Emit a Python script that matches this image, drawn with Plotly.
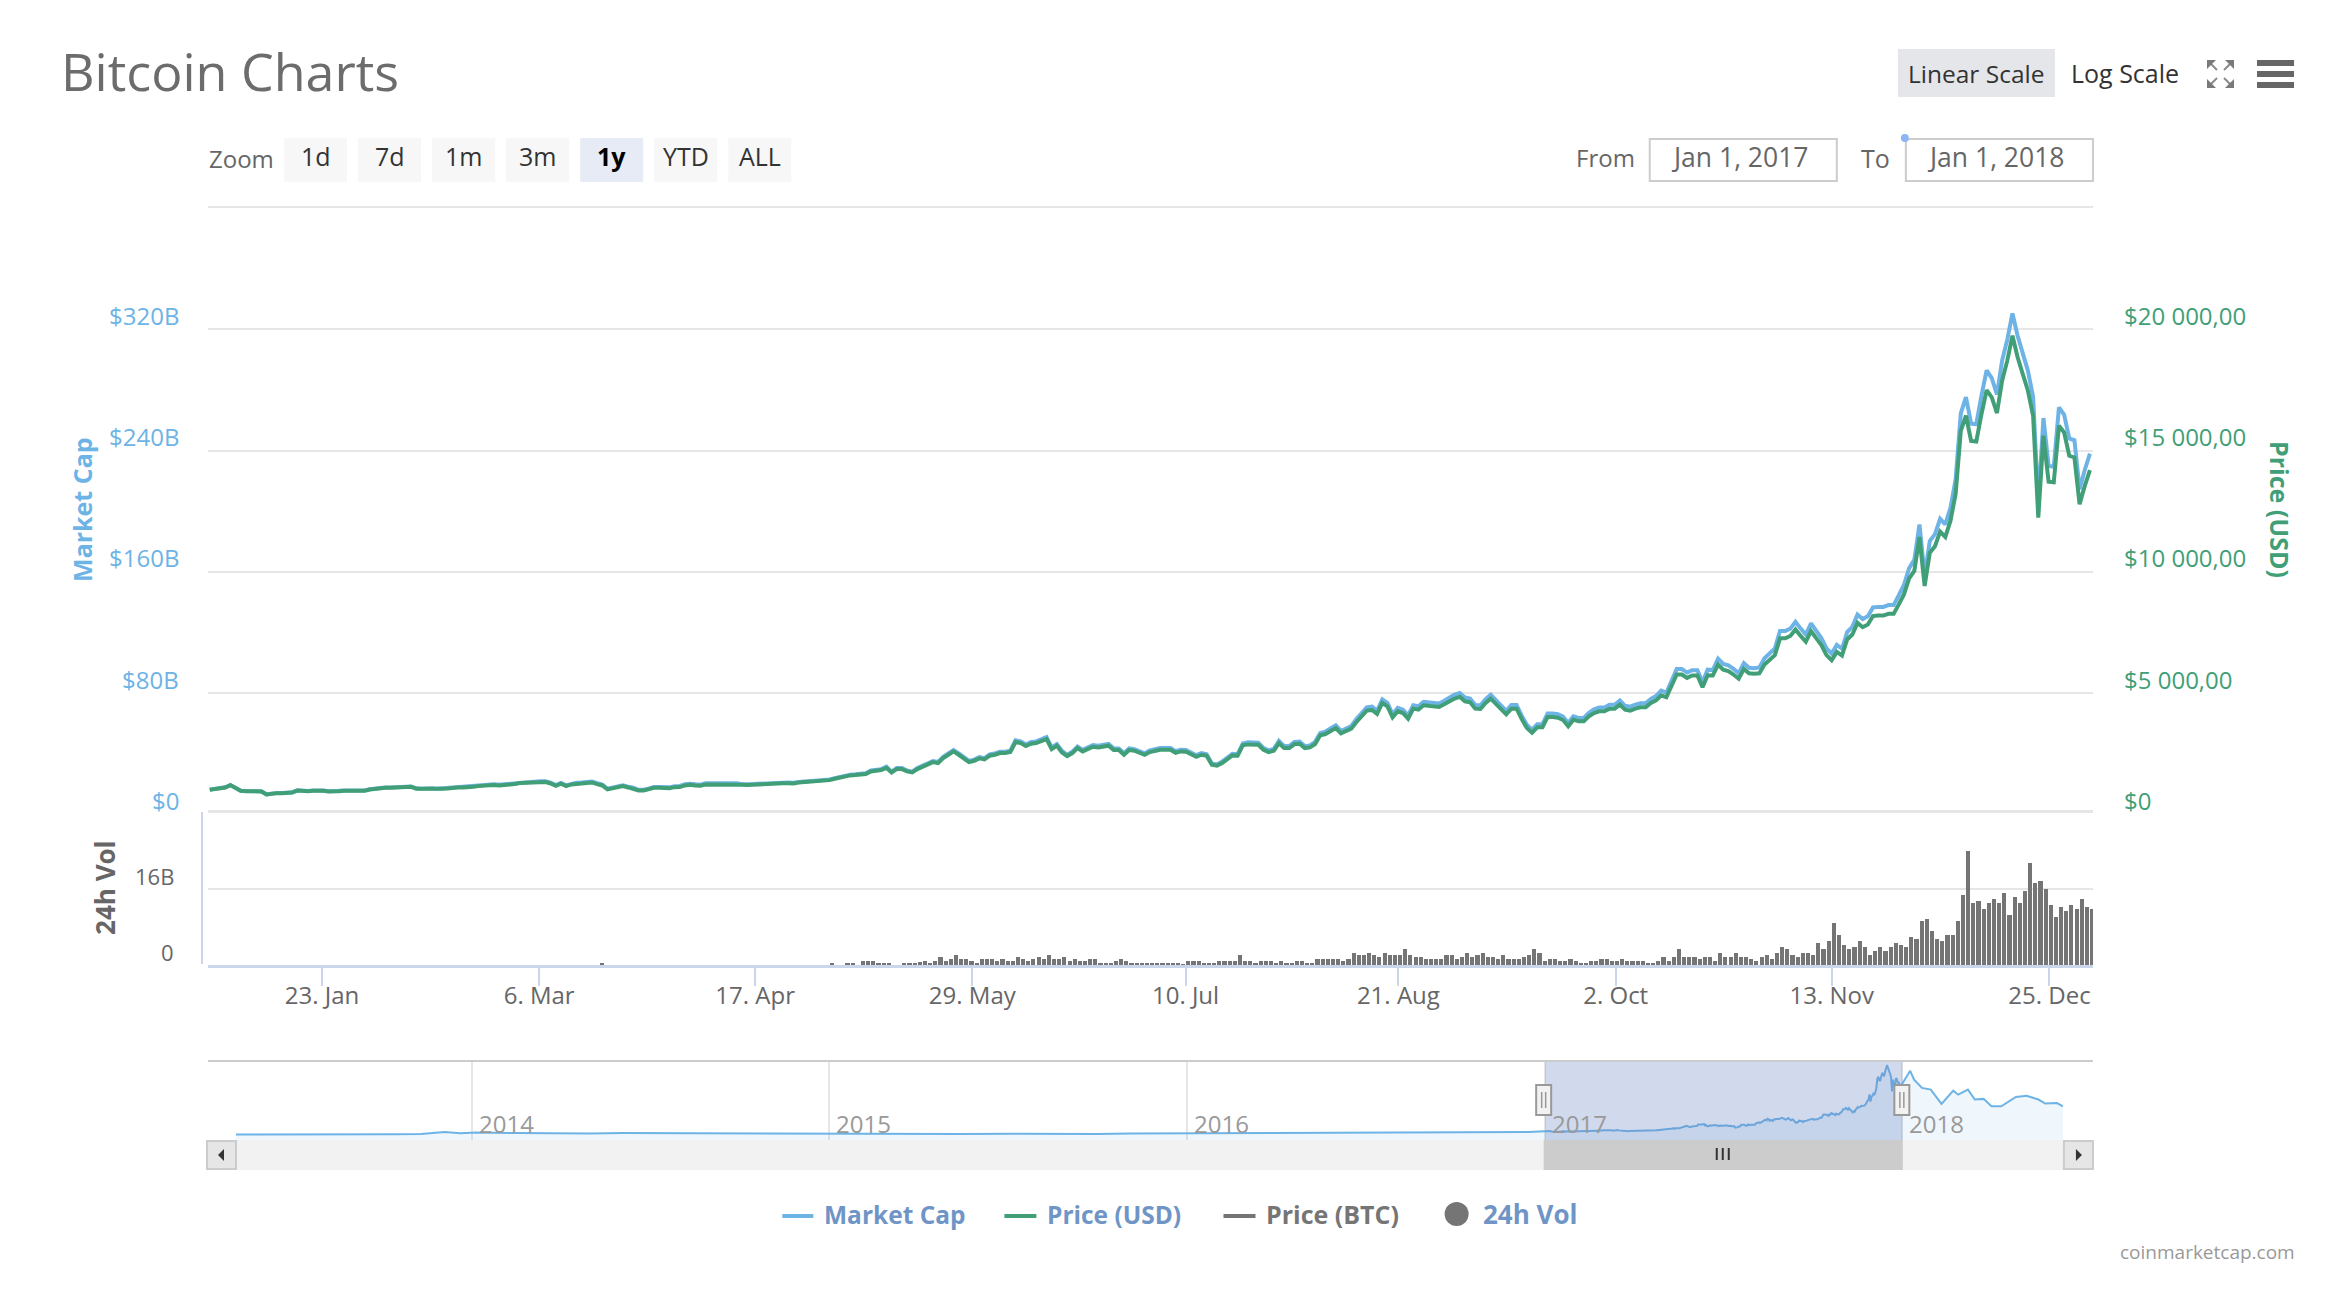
import pandas as pd
import plotly.graph_objects as go

W, H = 2334, 1314
FONT = "Open Sans"
BLUE, GREEN, GREY = "#6db3e6", "#419f77", "#757575"

price_usd = [
    1018,1046,1072,1115,1211,1087,977,963,963,963,
    950,826,868,881,881,881,908,990,963,963,
    977,990,977,950,936,963,977,977,977,977,
    977,1032,1060,1072,1101,1101,1101,1115,1128,1142,
    1060,1046,1060,1060,1046,1060,1072,1101,1115,1115,
    1115,1142,1170,1184,1225,1211,1198,1211,1225,1253,
    1294,1308,1321,1321,1335,1335,1280,1184,1267,1170,
    1239,1267,1280,1294,1321,1253,1198,1032,1087,1128,
    1170,1115,1072,990,990,1032,1101,1101,1087,1087,
    1128,1130,1198,1225,1198,1184,1239,1239,1252,1266,
    1266,1266,1266,1225,1211,1225,1239,1252,1266,1280,
    1307,1293,1293,1280,1321,1335,1349,1362,1376,1390,
    1417,1472,1528,1556,1611,1625,1638,1666,1776,1817,
    1831,1927,1735,1872,1872,1776,1735,1872,1982,2065,
    2160,2119,2326,2463,2600,2463,2298,2160,2215,2312,
    2270,2422,2463,2532,2532,2573,2987,2945,2820,2917,
    2945,3014,3111,2697,2835,2559,2408,2532,2738,2600,
    2711,2793,2766,2793,2835,2656,2656,2463,2656,2628,
    2532,2463,2573,2628,2670,2670,2670,2545,2600,2587,
    2463,2380,2463,2422,2050,2010,2120,2298,2436,2422,
    2849,2890,2876,2876,2670,2573,2628,2945,2738,2738,
    2904,2917,2738,2766,2904,3263,3318,3428,3566,3345,
    3428,3538,3813,4047,4281,4308,4143,4597,4460,4005,
    4253,4184,3950,4363,4322,4500,4473,4473,4432,4542,
    4680,4780,4850,4666,4625,4363,4349,4597,4776,4555,
    4308,4129,4363,4363,3936,3566,3373,3593,3593,4019,
    4019,3991,3895,3634,3909,3840,3840,4047,4184,4253,
    4253,4363,4363,4528,4322,4281,4363,4418,4418,4597,
    4707,4914,4832,5287,5770,5770,5630,5730,5730,5250,
    5740,5730,6180,5970,5910,5770,5600,6000,5820,5800,
    5820,6180,6390,6570,7260,7260,7360,7630,7360,7120,
    7560,7280,6980,6570,6360,6700,6550,7215,7420,7900,
    7720,7830,8180,8200,8200,8270,8270,8660,9070,9730,
    10040,11440,9417,10790,11060,11660,11440,12100,13216,15818,
    16437,15400,15376,16500,17496,17195,16548,17883,18708,19740,
    18845,18155,17468,16437,12240,15613,13717,13690,16024,15750,
    14786,14717,12790,13547,14194,
]
market_cap_b = [
    16.4,16.8,17.3,18.0,19.5,17.5,15.7,15.5,15.5,15.5,
    15.3,13.3,14.0,14.2,14.2,14.2,14.7,16.0,15.5,15.5,
    15.8,16.0,15.8,15.4,15.2,15.6,15.8,15.8,15.8,15.8,
    15.8,16.7,17.2,17.4,17.8,17.8,17.8,18.1,18.3,18.5,
    17.3,17.0,17.3,17.3,17.0,17.3,17.5,17.9,18.2,18.2,
    18.3,18.7,19.2,19.4,20.1,19.9,19.6,19.9,20.1,20.5,
    21.2,21.5,21.7,21.7,21.9,21.9,21.0,19.4,20.8,19.2,
    20.4,20.9,21.1,21.4,21.8,20.7,19.8,17.0,17.9,18.6,
    19.3,18.4,17.7,16.3,16.3,17.0,18.2,18.2,17.9,17.9,
    18.7,18.8,19.9,20.3,19.9,19.7,20.6,20.6,20.8,21.0,
    20.6,20.6,20.6,19.9,19.7,19.9,20.2,20.4,20.6,20.8,
    21.3,21.1,21.1,20.9,21.5,21.8,22.0,22.2,22.4,22.7,
    23.1,24.0,24.9,25.4,26.3,26.5,26.7,27.2,29.0,29.6,
    29.9,31.5,28.3,30.6,30.6,29.0,28.3,30.6,32.4,33.7,
    35.3,34.6,38.0,40.3,42.5,40.3,37.6,35.3,36.2,37.8,
    37.2,39.7,40.3,41.4,41.4,42.1,48.9,48.2,46.2,47.8,
    48.2,49.4,51.0,44.2,46.4,41.9,39.4,41.5,44.8,42.6,
    44.5,45.8,45.4,45.8,46.5,43.6,43.6,40.4,43.6,43.1,
    41.6,40.4,42.2,43.2,43.8,43.8,43.8,41.8,42.7,42.5,
    40.5,39.1,40.5,39.8,33.7,33.0,34.9,37.8,40.0,39.8,
    46.9,47.6,47.3,47.3,43.9,42.3,43.3,48.5,45.1,45.1,
    47.9,48.1,45.1,45.6,47.9,53.8,54.7,56.5,58.8,55.1,
    56.6,58.4,62.9,66.8,70.6,71.1,68.4,75.9,73.6,66.1,
    70.3,69.1,65.3,72.1,71.4,74.3,73.9,73.9,73.2,75.0,
    77.4,79.1,80.2,77.2,76.5,72.2,71.9,76.0,79.0,75.3,
    71.3,68.4,72.2,72.2,65.2,59.1,55.9,59.5,59.5,66.6,
    66.6,66.2,64.6,60.3,64.8,63.7,63.7,67.1,69.4,70.5,
    70.6,72.4,72.4,75.2,71.7,71.1,72.4,73.3,73.3,76.3,
    78.2,81.7,80.3,87.9,95.9,95.9,93.6,95.2,95.2,87.3,
    95.5,95.3,102.8,99.3,98.3,96.0,93.2,99.8,96.8,96.5,
    97.0,103.0,106.5,109.5,121.0,121.0,122.6,127.1,122.6,118.6,
    126.1,121.4,116.4,109.6,106.1,111.8,109.3,120.3,123.8,131.8,
    128.9,130.8,136.6,136.9,136.9,138.1,138.1,144.6,151.5,162.5,
    167.9,191.3,157.5,180.4,184.9,195.0,191.3,202.3,221.0,264.5,
    275.2,257.8,257.4,276.2,292.9,287.8,277.0,299.4,313.2,330.5,
    315.7,304.1,292.6,275.3,205.0,261.5,229.8,229.3,268.4,263.8,
    248.0,246.8,214.5,227.2,238.0,
]
volume_b = [
    0,.35,0,0,.42,.42,0,.84,.84,.84,.42,.42,.42,0,0,.42,.42,.42,.6,.84,
    .42,.84,1.68,.84,1.26,2.1,1.26,1.26,.84,.42,1.26,1.26,1.26,.84,1.26,.84,.84,1.68,1.26,.84,
    1.26,1.68,1.26,2.1,1.26,1.26,1.68,.84,1.26,.84,.84,1.26,1.26,.42,.42,.42,.84,1.26,.84,.42,
    .42,.42,.42,.42,.42,.42,.42,.42,.42,.14,.84,.84,.84,.42,.42,.42,.84,.84,.84,.84,
    2.1,.84,.84,.42,.84,.84,.84,.42,.84,.42,.42,.84,.84,.42,.42,1.26,1.26,1.26,1.26,1.26,
    .84,1.26,2.53,2.1,2.1,2.53,2.1,1.68,2.53,2.1,2.1,2.1,3.37,2.1,1.68,1.68,1.26,1.26,1.26,1.26,
    2.1,
    2.1,1.26,1.68,2.53,1.68,2.1,2.53,1.68,1.68,1.26,2.1,1.26,1.26,1.26,1.68,2.1,3.37,2.53,.84,1.26,
    1.26,.84,.84,1.26,.84,.42,.42,.84,.84,1.26,1.26,.84,.84,1.26,.84,.84,.84,.84,.42,.42,
    .84,1.68,.84,1.68,3.37,1.68,1.68,1.68,1.26,1.68,1.68,.84,2.53,1.68,1.68,2.53,1.68,1.68,1.26,.84,
    1.68,2.1,1.26,2.53,3.79,3.37,2.1,1.68,2.53,2.53,2.1,4.63,3.37,5.05,8.85,6.32,4.21,3.37,3.79,5.05,
    3.79,2.1,2.95,3.79,2.95,3.79,4.63,4.21,3.79,5.9,5.48,9.27,9.69,7.16,5.48,5.05,6.32,6.32,9.27,14.74,
    24.0,13.06,13.48,11.79,13.06,13.9,13.06,15.16,10.53,14.32,13.06,15.58,21.48,17.27,17.69,16.0,12.64,10.11,12.2,11.37,
    12.64,11.79,13.9,12.2,11.79,
]
early_volume_date = ["2017-03-18 07:00"]
early_volume_b = [0.3]

nav_dates_before = [
    "2013-05-05","2013-07-01","2013-09-01","2013-10-15","2013-11-10","2013-12-04","2013-12-20",
    "2014-01-05","2014-02-15","2014-03-20","2014-05-01","2014-06-05","2014-07-15","2014-09-01",
    "2014-10-05","2014-11-20","2015-01-01","2015-01-15","2015-03-10","2015-05-15","2015-07-10",
    "2015-08-25","2015-10-01","2015-11-05","2015-12-20","2016-01-15","2016-03-15","2016-06-20",
    "2016-08-05","2016-10-15","2016-12-15",
]
nav_caps_before = [
    1.5,1.0,1.5,2,4,12.7,7.5,10.5,8,7,5.5,8.3,7.8,6.5,4.5,5,4.3,2.8,4,3.3,4.3,3.3,3.5,5.5,6.5,6,6.3,
    10.5,9,10,12.5,
]
nav_dates_after = [
    "2018-01-09","2018-01-13","2018-01-21","2018-01-30","2018-02-10","2018-02-22","2018-02-27",
    "2018-03-09","2018-03-16","2018-03-25","2018-04-02","2018-04-12","2018-04-27","2018-05-08",
    "2018-05-20","2018-05-27","2018-06-08","2018-06-14",
]
nav_caps_after = [303,261,222,214,146,209,190,214,167,170,135,135,179,185,167,148,150,135]
nav_floor_dates = ["2013-05-05", "2018-06-14"]
nav_floor_values = [-25, -25]

# The source axis is ordinal, so its ticks sit slightly off the calendar position of their label.
x_tick_dates = ["2017-01-23 02:00","2017-03-06 03:00","2017-04-16 23:00","2017-05-29 00:00","2017-07-09 07:00",
                "2017-08-19 12:00","2017-09-30 14:00","2017-11-11 10:00","2017-12-23 14:00"]
x_tick_labels = ["23. Jan","6. Mar","17. Apr","29. May","10. Jul","21. Aug","2. Oct","13. Nov","25. Dec"]
cap_ticks = [0, 80, 160, 240, 320]
cap_labels = ["$0", "$80B", "$160B", "$240B", "$320B"]
price_ticks = [0, 5000, 10000, 15000, 20000]
price_labels = ["$0", "$5 000,00", "$10 000,00", "$15 000,00", "$20 000,00"]
vol_ticks = [0, 16]
vol_labels = ["0", "16B"]
nav_years = ["2014-01-01","2015-01-01","2016-01-01","2017-01-01","2018-01-01"]
nav_year_labels = ["2014","2015","2016","2017","2018"]
zoom_buttons = ["1d","7d","1m","3m","1y","YTD","ALL"]

assert len(price_usd) == len(market_cap_b) == 365, (len(price_usd), len(market_cap_b))

main_dates = pd.date_range("2017-01-01 08:00", "2017-12-31 10:00", periods=len(price_usd))
vol_dates = pd.date_range("2017-04-30 20:00", periods=len(volume_b), freq="D")
nav_x = nav_dates_before + [str(d) for d in main_dates] + nav_dates_after
nav_y = nav_caps_before + market_cap_b + nav_caps_after


def px(x): return (208 + (x - 208) * 1.0005) / W
def py(y): return 1 - y / H


shapes, notes = [], []


def rect(x0, y0, x1, y1, fill, line=None, lw=0, layer="above"):
    shapes.append(dict(type="rect", xref="paper", yref="paper", x0=px(x0), x1=px(x1), y0=py(y0), y1=py(y1),
                       fillcolor=fill, line=dict(color=line or fill, width=lw), layer=layer))


def seg(x0, y0, x1, y1, color, lw=2, layer="above"):
    shapes.append(dict(type="line", xref="paper", yref="paper", x0=px(x0), x1=px(x1), y0=py(y0), y1=py(y1),
                       line=dict(color=color, width=lw), layer=layer))


def poly(points, color):
    path = "M " + " L ".join(f"{px(a):.5f},{py(b):.5f}" for a, b in points) + " Z"
    shapes.append(dict(type="path", xref="paper", yref="paper", path=path, fillcolor=color,
                       line=dict(color=color, width=0), layer="above"))


def txt(x, y, s, size, color, anchor="center", bold=False, angle=0):
    notes.append(dict(xref="paper", yref="paper", x=px(x), y=py(y), text=f"<b>{s}</b>" if bold else s,
                      showarrow=False, xanchor=anchor, yanchor="middle", textangle=angle,
                      font=dict(family=FONT, size=size, color=color)))


# header
txt(59, 71, "Bitcoin Charts", 52, "#6c6c6c", "left")
rect(1897, 49, 2054, 97, "#e4e6ea")
txt(1975, 73, "Linear Scale", 24.5, "#333333")
txt(2124, 73, "Log Scale", 25, "#333333")
for a, b, sx, sy in [(2206, 60, 1, 1), (2233, 60, -1, 1), (2206, 88, 1, -1), (2233, 88, -1, -1)]:
    seg(a + 2 * sx, b + 2 * sy, a + 10 * sx, b + 10 * sy, "#8a8a8a", 2)
    poly([(a, b), (a + 9 * sx, b), (a, b + 9 * sy)], "#7a7a7a")
for top in (60, 71, 82):
    rect(2256, top, 2293, top + 6, "#666666")

# range selector row
txt(207, 159, "Zoom", 24, "#666666", "left")
for i, label in enumerate(zoom_buttons):
    x0 = 284 + i * 74
    selected = label == "1y"
    rect(x0, 138, x0 + 63, 182, "#e6ebf5" if selected else "#f7f7f7")
    txt(x0 + 31.5, 156, label, 25, "#000000" if selected else "#333333", bold=selected)
txt(1573, 158, "From", 24, "#666666", "left")
txt(1858, 158, "To", 25, "#666666", "left")
rect(1649, 139, 1836, 181, "#ffffff", "#cccccc", 2)
rect(1905, 139, 2092, 181, "#ffffff", "#cccccc", 2)
txt(1739, 157, "Jan 1, 2017", 26.5, "#666666")
txt(1995, 157, "Jan 1, 2018", 26.5, "#666666")
shapes.append(dict(type="circle", xref="paper", yref="paper", x0=px(1900), x1=px(1908), y0=py(134), y1=py(142),
                   fillcolor="#8ab6f5", line=dict(width=0), layer="above"))

# pane furniture
seg(208, 207, 2092, 207, "#e6e6e6", 2, "below")
rect(208, 810, 2092, 814, "#e6e6e6", layer="below")
seg(202, 812, 202, 964, "#ccd6eb", 2)

# y axis labels, drawn above their grid lines as in the reference
for v, s in zip(cap_ticks, cap_labels):
    notes.append(dict(xref="paper", yref="y", x=px(181), y=v, yshift=14, text=s, showarrow=False, xanchor="right",
                      yanchor="middle", font=dict(family=FONT, size=24, color=BLUE)))
for v, s in zip(price_ticks, price_labels):
    notes.append(dict(xref="paper", yref="y2", x=px(2121), y=v, yshift=14, text=s, showarrow=False, xanchor="left",
                      yanchor="middle", font=dict(family=FONT, size=24, color=GREEN)))
for v, s in zip(vol_ticks, vol_labels):
    notes.append(dict(xref="paper", yref="y3", x=px(176), y=v, yshift=13, text=s, showarrow=False, xanchor="right",
                      yanchor="middle", font=dict(family=FONT, size=22, color="#666666")))
txt(82, 509, "Market Cap", 25, BLUE, bold=True, angle=-90)
txt(2279, 509, "Price (USD)", 25, GREEN, bold=True, angle=90)
txt(105, 887, "24h Vol", 26, "#666666", bold=True, angle=-90)

# navigator furniture
seg(208, 1061, 2092, 1061, "#cccccc", 2)
rect(236, 1140, 2062, 1170, "#f2f2f2")
rect(207, 1141, 236, 1169, "#e6e6e6", "#cccccc", 2)
rect(2063, 1141, 2092, 1169, "#e6e6e6", "#cccccc", 2)
poly([(218, 1155), (224, 1149), (224, 1161)], "#333333")
poly([(2081, 1155), (2075, 1149), (2075, 1161)], "#333333")
rect(1543, 1140, 1902, 1170, "#cccccc")
for a in (1716, 1722, 1728):
    seg(a, 1148, a, 1160, "#333333", 2)
shapes.append(dict(type="rect", xref="x2", yref="paper", x0=nav_years[3], x1=nav_years[4], y0=py(1140), y1=py(1062),
                   fillcolor="rgba(102,133,194,0.3)", line=dict(width=0), layer="above"))
for a in (1543, 1901):
    rect(a - 7.5, 1085, a + 7.5, 1115, "#f2f2f2", "#999999", 2)
    seg(a - 2, 1092, a - 2, 1108, "#999999", 1.5)
    seg(a + 2, 1092, a + 2, 1108, "#999999", 1.5)
for d, s in zip(nav_years, nav_year_labels):
    notes.append(dict(xref="x2", yref="paper", x=d, xshift=5, y=py(1123), text=s, showarrow=False, xanchor="left",
                      yanchor="middle", font=dict(family=FONT, size=24, color="#999999")))

# legend
LEG = "#6f95c6"
seg(782, 1216, 813, 1216, BLUE, 4)
txt(822, 1214, "Market Cap", 24.5, LEG, "left", True)
seg(1004, 1216, 1036, 1216, GREEN, 4)
txt(1045, 1214, "Price (USD)", 24.5, LEG, "left", True)
seg(1223, 1216, 1255, 1216, GREY, 4)
txt(1263, 1214, "Price (BTC)", 25, GREY, "left", True)
shapes.append(dict(type="circle", xref="paper", yref="paper", x0=px(1444), x1=px(1468), y0=py(1202), y1=py(1226),
                   fillcolor=GREY, line=dict(width=0), layer="above"))
txt(1480, 1214, "24h Vol", 26, LEG, "left", True)
txt(2296, 1252, "coinmarketcap.com", 19, "#999999", "right")

fig = go.Figure()
fig.add_trace(go.Bar(x=list(pd.to_datetime(early_volume_date)) + list(vol_dates), y=early_volume_b + volume_b,
                     width=0.8 * 86400000, marker=dict(color=GREY, line=dict(width=0)), name="24h Vol",
                     xaxis="x", yaxis="y3"))
fig.add_trace(go.Scatter(x=main_dates, y=market_cap_b, mode="lines", name="Market Cap",
                         line=dict(color=BLUE, width=4), xaxis="x", yaxis="y"))
fig.add_trace(go.Scatter(x=main_dates, y=price_usd, mode="lines", name="Price (USD)",
                         line=dict(color=GREEN, width=4), xaxis="x", yaxis="y2"))
fig.add_trace(go.Scatter(x=nav_floor_dates, y=nav_floor_values, mode="lines", line=dict(width=0),
                         showlegend=False, hoverinfo="skip", xaxis="x2", yaxis="y4"))
fig.add_trace(go.Scatter(x=nav_x, y=nav_y, mode="lines", name="Navigator", fill="tonexty",
                         fillcolor="rgba(109,179,230,0.1)", line=dict(color=BLUE, width=2),
                         xaxis="x2", yaxis="y4"))

fig.update_layout(
    width=W, height=H, margin=dict(l=0, r=0, t=0, b=0), paper_bgcolor="white", plot_bgcolor="white",
    showlegend=False, shapes=shapes, annotations=notes, bargap=0, font=dict(family=FONT),
    xaxis=dict(domain=[px(208), px(2092)], range=["2017-01-01", "2018-01-01"], anchor="y3", type="date",
               tickmode="array", tickvals=x_tick_dates, ticktext=x_tick_labels, ticks="outside", ticklen=18,
               tickwidth=2, tickcolor="#ccd6eb", showgrid=False, showline=True, linecolor="#ccd6eb", linewidth=3,
               tickfont=dict(family=FONT, size=24, color="#666666"), zeroline=False, ticklabelstandoff=-11),
    yaxis=dict(domain=[py(814.5), py(208)], range=[0, 400], tickmode="array", tickvals=cap_ticks,
               showticklabels=False, gridcolor="#e6e6e6", gridwidth=2, zeroline=False, anchor="x"),
    yaxis2=dict(domain=[py(814.5), py(208)], range=[0, 25000], overlaying="y", side="right", showgrid=False,
                showticklabels=False, zeroline=False, anchor="x"),
    yaxis3=dict(domain=[py(965), py(813)], range=[0, 32], tickmode="array", tickvals=vol_ticks,
                showticklabels=False, gridcolor="#e6e6e6", gridwidth=2, zeroline=False, anchor="x"),
    xaxis2=dict(domain=[px(236), px(2062)], range=["2013-05-05", "2018-06-14"], anchor="y4", type="date",
                tickmode="array", tickvals=nav_years, showticklabels=False, gridcolor="#e6e6e6", gridwidth=2,
                showline=False, zeroline=False),
    yaxis4=dict(domain=[py(1140), py(1062)], range=[-25, 345], showticklabels=False, showgrid=False,
                zeroline=False, anchor="x2"),
)

fig.write_html("out.html", config=dict(displayModeBar=False),
               post_script="document.body.style.margin='0';document.body.style.overflow='hidden';")
